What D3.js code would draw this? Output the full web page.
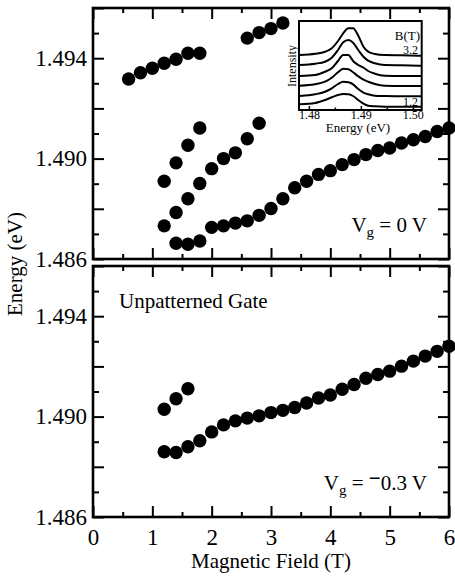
<!DOCTYPE html>
<html>
<head>
<meta charset="utf-8">
<script src="https://cdn.jsdelivr.net/npm/d3@7"></script>
<style>
  html, body { margin: 0; padding: 0; background: #fff; }
  svg { display: block; font-family: "Liberation Serif", "Times New Roman", serif; }
</style>
</head>
<body>
<div id="chart"></div>
<script>
// top panel, Vg = 0 V
const topUpperB = [0.6, 0.8, 1.0, 1.2, 1.4, 1.6, 1.8, 2.6, 2.8, 3.0, 3.2];
const topUpperE = [1.49317, 1.49342, 1.49360, 1.49380, 1.49396, 1.49420, 1.49420, 1.49480, 1.49502, 1.49518, 1.49540];
const topMidB = [1.2, 1.4, 1.6, 1.8];
const topMidE = [1.48910, 1.48983, 1.49053, 1.49122];
const topLowMidB = [1.2, 1.4, 1.6, 1.8, 2.0, 2.2, 2.4, 2.6, 2.8];
const topLowMidE = [1.48732, 1.48785, 1.48840, 1.48901, 1.48960, 1.49000, 1.49023, 1.49079, 1.49141];
const topLowB = [1.4, 1.6, 1.8, 2.0, 2.2, 2.4, 2.6, 2.8, 3.0, 3.2, 3.4, 3.6, 3.8, 4.0, 4.2, 4.4, 4.6, 4.8, 5.0, 5.2, 5.4, 5.6, 5.8, 6.0];
const topLowE = [1.48663, 1.48659, 1.48672, 1.48726, 1.48732, 1.48743, 1.48752, 1.48774, 1.48801, 1.48840, 1.48884, 1.48910,
                 1.48937, 1.48952, 1.48976, 1.48996, 1.49016, 1.49032, 1.49042, 1.49062, 1.49075, 1.49088, 1.49108, 1.49122];

// bottom panel, unpatterned gate, Vg = -0.3 V
const botUpperB = [1.2, 1.4, 1.6];
const botUpperE = [1.49029, 1.49071, 1.49111];
const botLowB = [1.2, 1.4, 1.6, 1.8, 2.0, 2.2, 2.4, 2.6, 2.8, 3.0, 3.2, 3.4, 3.6, 3.8, 4.0, 4.2, 4.4, 4.6, 4.8, 5.0, 5.2, 5.4, 5.6, 5.8, 6.0];
const botLowE = [1.48860, 1.48857, 1.48880, 1.48904, 1.48939, 1.48967, 1.48983, 1.48994, 1.49003, 1.49016, 1.49025, 1.49036,
                 1.49054, 1.49074, 1.49086, 1.49109, 1.49128, 1.49153, 1.49168, 1.49181, 1.49201, 1.49221, 1.49241, 1.49260, 1.49280];

// inset spectra (stacked, arbitrary units)
const insetEnergy = [1.4783, 1.4812, 1.4831, 1.4844, 1.4856, 1.4866, 1.4876, 1.4885, 1.4895, 1.4905, 1.4914, 1.4927, 1.4946, 1.4978, 1.5017];
const insetFields = ['3.2', '2.8', '2.4', '2.0', '1.6', '1.2'];
const insetSpectra = [
  [55, 56.3, 58.3, 61.7, 69, 76.7, 81.7, 81.7, 74.3, 63.3, 58.3, 56, 55, 54.7, 54.3],
  [45, 46.3, 48.3, 52.3, 60, 67.7, 70, 67.3, 60, 53.3, 49.3, 46.7, 45, 44.7, 44.3],
  [34, 35, 38.3, 41.7, 49, 55, 55, 49, 45, 42.3, 39, 36.3, 34.3, 34, 34],
  [24.3, 25.7, 28.3, 32.3, 37.7, 41.3, 40.7, 37.7, 33.7, 30.3, 28.3, 26, 24.3, 24, 24],
  [14, 15.7, 18.3, 21.7, 26, 28.3, 27.7, 25.7, 21, 17.3, 15.7, 14.3, 14, 13.7, 13.7],
  [5.7, 7, 10, 12.7, 15, 16, 15.7, 14, 10, 6.3, 4.3, 3.7, 3.3, 3.3, 3.3]
];

const xTicks = [0, 1, 2, 3, 4, 5, 6];
const xMinorTicks = [0.5, 1.5, 2.5, 3.5, 4.5, 5.5];
const yLabelTicks = [1.486, 1.490, 1.494];
const yMajorTicks = [1.486, 1.488, 1.490, 1.492, 1.494, 1.496];
const yMinorTicks = [1.487, 1.489, 1.491, 1.493, 1.495];
const insetTicks = [1.48, 1.49, 1.50];
const insetMinorTicks = [1.485, 1.495];

const width = 455, height = 578;
const left = 93, right = 449;

const svg = d3.select('#chart').append('svg')
    .attr('width', width)
    .attr('height', height);

const x = d3.scaleLinear().domain([0, 6]).range([left, right]);

function zip(bs, es) {
    return bs.map((b, i) => ({ b: b, e: es[i] }));
}

function drawPanel(top, bottom, series, showXLabels) {
    const y = d3.scaleLinear().domain([1.486, 1.496]).range([bottom, top]);
    const g = svg.append('g');

    const noDomain = sel => sel.select('.domain').remove();
    const tickStyle = sel => sel.selectAll('line').attr('stroke', '#000').attr('stroke-width', 2);

    // y ticks, left and right
    g.append('g').attr('transform', `translate(${left},0)`)
        .call(d3.axisLeft(y).tickValues(yMinorTicks).tickSizeInner(-6).tickSizeOuter(0).tickFormat(''))
        .call(noDomain).call(tickStyle);
    g.append('g').attr('transform', `translate(${left},0)`)
        .call(d3.axisLeft(y).tickValues(yMajorTicks).tickSizeInner(-11).tickSizeOuter(0).tickPadding(6)
            .tickFormat(d => yLabelTicks.some(t => Math.abs(t - d) < 1e-9) ? d3.format('.3f')(d) : ''))
        .call(noDomain).call(tickStyle)
        .selectAll('text').attr('font-size', 23).attr('font-family', '"Liberation Serif", serif').attr('fill', '#000');
    g.append('g').attr('transform', `translate(${right},0)`)
        .call(d3.axisRight(y).tickValues(yMinorTicks).tickSizeInner(-6).tickSizeOuter(0).tickFormat(''))
        .call(noDomain).call(tickStyle);
    g.append('g').attr('transform', `translate(${right},0)`)
        .call(d3.axisRight(y).tickValues(yMajorTicks).tickSizeInner(-11).tickSizeOuter(0).tickFormat(''))
        .call(noDomain).call(tickStyle);

    // x ticks, top and bottom
    g.append('g').attr('transform', `translate(0,${top})`)
        .call(d3.axisTop(x).tickValues(xMinorTicks).tickSizeInner(-5).tickSizeOuter(0).tickFormat(''))
        .call(noDomain).call(tickStyle);
    g.append('g').attr('transform', `translate(0,${top})`)
        .call(d3.axisTop(x).tickValues(xTicks).tickSizeInner(-11).tickSizeOuter(0).tickFormat(''))
        .call(noDomain).call(tickStyle);
    g.append('g').attr('transform', `translate(0,${bottom})`)
        .call(d3.axisBottom(x).tickValues(xMinorTicks).tickSizeInner(-5).tickSizeOuter(0).tickFormat(''))
        .call(noDomain).call(tickStyle);
    const xb = g.append('g').attr('transform', `translate(0,${bottom})`)
        .call(d3.axisBottom(x).tickValues(xTicks).tickSizeInner(-11).tickSizeOuter(0).tickPadding(12)
            .tickFormat(showXLabels ? d3.format('d') : ''))
        .call(noDomain).call(tickStyle);
    xb.selectAll('text').attr('font-size', 23).attr('font-family', '"Liberation Serif", serif').attr('fill', '#000');

    g.append('rect')
        .attr('x', left).attr('y', top)
        .attr('width', right - left).attr('height', bottom - top)
        .attr('fill', 'none').attr('stroke', '#000').attr('stroke-width', 2.6);

    for (const s of series) {
        g.append('g').selectAll('circle')
            .data(s)
            .enter().append('circle')
            .attr('cx', d => x(d.b))
            .attr('cy', d => y(d.e))
            .attr('r', 6.7)
            .attr('fill', '#000');
    }
    return g;
}

drawPanel(8, 259, [
    zip(topUpperB, topUpperE),
    zip(topMidB, topMidE),
    zip(topLowMidB, topLowMidE),
    zip(topLowB, topLowE)
], false);

drawPanel(266, 517, [
    zip(botUpperB, botUpperE),
    zip(botLowB, botLowE)
], true);

// panel labels
const vg0 = svg.append('text').attr('x', 427).attr('y', 232).attr('text-anchor', 'end').attr('font-size', 21);
vg0.append('tspan').text('V');
vg0.append('tspan').attr('font-size', 15).attr('dy', 5).text('g');
vg0.append('tspan').attr('dy', -5).text(' = 0 V');

const vg1 = svg.append('text').attr('x', 427).attr('y', 490).attr('text-anchor', 'end').attr('font-size', 21);
vg1.append('tspan').text('V');
vg1.append('tspan').attr('font-size', 15).attr('dy', 5).text('g');
vg1.append('tspan').attr('dy', -5).text(' = ');
vg1.append('tspan').attr('dy', -5).attr('font-weight', 'bold').text('\u2212');
vg1.append('tspan').attr('dy', 5).text('0.3 V');

svg.append('text').attr('x', 119).attr('y', 308).attr('font-size', 21).text('Unpatterned Gate');

svg.append('text')
    .attr('x', (left + right) / 2).attr('y', 568)
    .attr('text-anchor', 'middle').attr('font-size', 21)
    .text('Magnetic Field (T)');

svg.append('text')
    .attr('transform', 'translate(22,264) rotate(-90)')
    .attr('text-anchor', 'middle').attr('font-size', 21)
    .text('Energy (eV)');

// inset
const ix = d3.scaleLinear().domain([1.4781, 1.5017]).range([299, 421.7]);
const iy = d3.scaleLinear().domain([0, 89]).range([110, 21]);
const inset = svg.append('g');

inset.append('rect')
    .attr('x', 299).attr('y', 21).attr('width', 421.7 - 299).attr('height', 89)
    .attr('fill', '#fff');

const line = d3.line()
    .x((d, i) => ix(insetEnergy[i]))
    .y(d => iy(d))
    .curve(d3.curveMonotoneX);

inset.selectAll('path.spec')
    .data(insetSpectra)
    .enter().append('path')
    .attr('class', 'spec')
    .attr('d', line)
    .attr('fill', 'none')
    .attr('stroke', '#000')
    .attr('stroke-width', 2);

inset.append('g').attr('transform', 'translate(0,110)')
    .call(d3.axisBottom(ix).tickValues(insetMinorTicks).tickSizeInner(-2.5).tickSizeOuter(0).tickFormat(''))
    .call(sel => sel.select('.domain').remove())
    .selectAll('line').attr('stroke', '#000').attr('stroke-width', 1.5);
const ixa = inset.append('g').attr('transform', 'translate(0,110)')
    .call(d3.axisBottom(ix).tickValues(insetTicks).tickSizeInner(-4).tickSizeOuter(0).tickPadding(0).tickFormat(d3.format('.2f')));
ixa.select('.domain').remove();
ixa.selectAll('line').attr('stroke', '#000').attr('stroke-width', 1.5);
ixa.selectAll('text').attr('font-size', 12).attr('font-family', '"Liberation Serif", serif').attr('fill', '#000');

inset.append('rect')
    .attr('x', 299).attr('y', 21).attr('width', 421.7 - 299).attr('height', 89)
    .attr('fill', 'none').attr('stroke', '#000').attr('stroke-width', 2);

inset.append('text').attr('x', 420).attr('y', 40).attr('text-anchor', 'end').attr('font-size', 13).text('B(T)');
inset.append('text').attr('x', 418).attr('y', 54).attr('text-anchor', 'end').attr('font-size', 12).text(insetFields[0]);
inset.append('text').attr('x', 418).attr('y', 106).attr('text-anchor', 'end').attr('font-size', 12).text(insetFields[insetFields.length - 1]);
inset.append('text')
    .attr('transform', 'translate(296,66) rotate(-90)')
    .attr('text-anchor', 'middle').attr('font-size', 12)
    .text('Intensity');
inset.append('text')
    .attr('x', 358).attr('y', 132)
    .attr('text-anchor', 'middle').attr('font-size', 13)
    .text('Energy (eV)');
</script>
</body>
</html>
